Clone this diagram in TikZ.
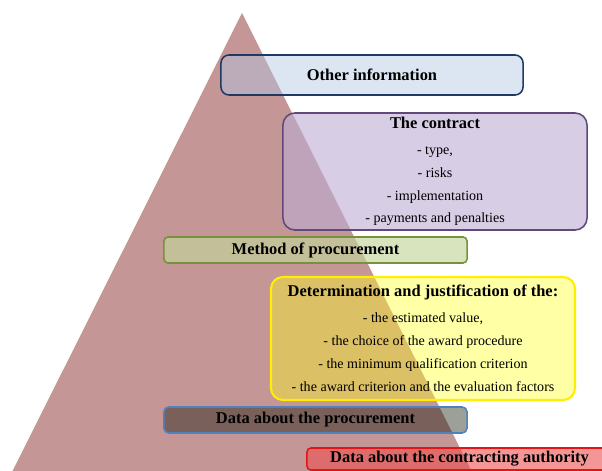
\documentclass[tikz,border=0pt]{standalone}
\usepackage{fontspec}
\setmainfont{Liberation Serif}
\definecolor{tri}{RGB}{196,150,150}
\definecolor{infofill}{RGB}{179,200,227}
\definecolor{infoline}{RGB}{31,56,100}
\definecolor{contrfill}{RGB}{188,172,210}
\definecolor{contrline}{RGB}{96,73,122}
\definecolor{methfill}{RGB}{194,214,155}
\definecolor{methline}{RGB}{118,146,60}
\definecolor{detfill}{RGB}{255,255,30}
\definecolor{detline}{RGB}{255,238,0}
\definecolor{procfill}{RGB}{10,15,0}
\definecolor{procline}{RGB}{79,129,189}
\definecolor{authfill}{RGB}{238,80,80}
\definecolor{authline}{RGB}{228,20,20}
\begin{document}
\begin{tikzpicture}[x=0.025cm,y=-0.025cm,
    box/.style={draw,line width=1.1pt,text opacity=1,inner sep=0pt,align=center,
      font=\fontsize{11.7}{14}\selectfont\bfseries},
    listbox/.style={box,font=\fontsize{10}{16.3}\selectfont}]
    \useasboundingbox (0,0) rectangle (602,471);
    \clip (0,0) rectangle (602,471);
    \fill[tri] (242,13) -- (6,484) -- (478,484) -- cycle;
    % boxes, from top to bottom
    \node (info) [box,fill=infofill,fill opacity=0.46,draw=infoline,rounded corners=0.2cm,
        minimum width=7.55cm,minimum height=1cm] at (372,75) {Other information};
    \node (contr) [listbox,fill=contrfill,fill opacity=0.6,draw=contrline,rounded corners=0.3cm,
        minimum width=7.6cm,minimum height=2.925cm] at (435,171.5)
        {{\fontsize{11.7}{14}\selectfont\bfseries The contract}\\[2pt]
         - type,\\ - risks\\ - implementation\\ - payments and penalties};
    \node (meth) [box,fill=methfill,fill opacity=0.65,draw=methline,rounded corners=0.1cm,
        minimum width=7.575cm,minimum height=0.65cm] at (315.5,250) {Method of procurement};
    \node (det) [listbox,fill=detfill,fill opacity=0.4,draw=detline,line width=1.5pt,rounded corners=0.3cm,
        minimum width=7.6cm,minimum height=3.075cm] at (423,338.5)
        {{\fontsize{11.7}{14}\selectfont\bfseries Determination and justification of the:}\\[2pt]
         - the estimated value,\\ - the choice of the award procedure\\
         - the minimum qualification criterion\\ - the award criterion and the evaluation factors};
    \node (proc) [box,fill=procfill,fill opacity=0.4,draw=procline,rounded corners=0.12cm,
        minimum width=7.575cm,minimum height=0.65cm] at (315.5,420) {Data about the procurement};
    \node (auth) [box,fill=authfill,fill opacity=0.6,draw=authline,rounded corners=0.1cm,
        minimum width=7.625cm,minimum height=0.55cm] at (459.5,459) {Data about the contracting authority};
\end{tikzpicture}
\end{document}
